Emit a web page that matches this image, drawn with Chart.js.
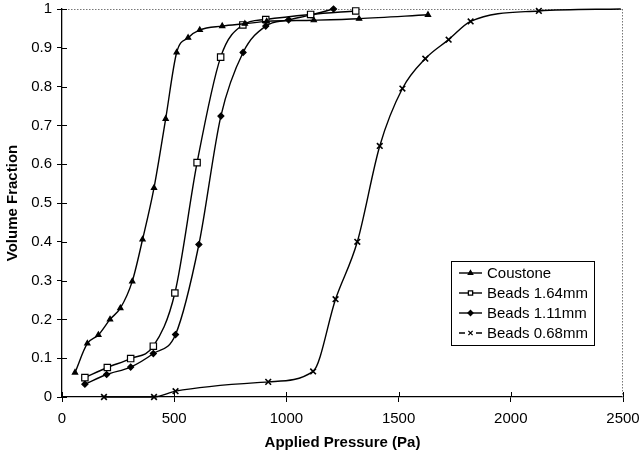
<!DOCTYPE html>
<html><head><meta charset="utf-8">
<script src="https://cdn.jsdelivr.net/npm/chart.js@4/dist/chart.umd.min.js"></script>
<style>html,body{margin:0;padding:0;background:#fff}#wrap{width:641px;height:455px;position:relative}</style>
</head><body><div id="wrap"><canvas id="c"></canvas></div>
<script>
const seriesNames = ['Coustone', 'Beads 1.64mm', 'Beads 1.11mm', 'Beads 0.68mm'];
const coustoneP = [58, 113, 162, 214, 260, 313, 359, 410, 462, 511, 562, 614, 714, 815, 912, 1122, 1324, 1631];
const coustoneV = [0.063, 0.138, 0.16, 0.2, 0.229, 0.298, 0.406, 0.539, 0.717, 0.888, 0.926, 0.946, 0.956, 0.962, 0.968, 0.971, 0.975, 0.985];
const beads164P = [102, 202, 306, 407, 503, 602, 707, 806, 908, 1108, 1309];
const beads164V = [0.05, 0.076, 0.099, 0.131, 0.268, 0.604, 0.876, 0.959, 0.973, 0.986, 0.995];
const beads111P = [102, 199, 306, 407, 506, 610, 708, 807, 908, 1010, 1110, 1210];
const beads111V = [0.033, 0.058, 0.077, 0.112, 0.161, 0.393, 0.724, 0.888, 0.956, 0.972, 0.985, 1.0];
const beads068P = [187, 410, 506, 919, 1119, 1219, 1316, 1416, 1517, 1619, 1723, 1821, 2125, 2490];
const beads068V = [0, 0, 0.015, 0.039, 0.066, 0.252, 0.4, 0.647, 0.795, 0.872, 0.921, 0.968, 0.995, 1.0];
const xTicks = [0, 500, 1000, 1500, 2000, 2500];
const yTicks = [0, 0.1, 0.2, 0.3, 0.4, 0.5, 0.6, 0.7, 0.8, 0.9, 1];
const xTitle = 'Applied Pressure (Pa)';
const yTitle = 'Volume Fraction';

const pts = (xs, ys) => xs.map((x, i) => ({x: x, y: ys[i]}));

const styles = [
  {pointStyle: 'triangle', radius: 3, bg: '#000', legendRadius: 2.5},
  {pointStyle: 'rect', radius: 4.5, bg: '#fff', legendRadius: 3},
  {pointStyle: 'rectRot', radius: 3, bg: '#000', legendRadius: 2.5},
  {pointStyle: 'crossRot', radius: 4, bg: '#000', legendRadius: 3}
];
const seriesData = [pts(coustoneP, coustoneV), pts(beads164P, beads164V), pts(beads111P, beads111V), pts(beads068P, beads068V)];

const datasets = seriesNames.map((name, i) => ({
  label: name,
  data: seriesData[i],
  borderColor: '#000',
  borderWidth: 1.4,
  backgroundColor: styles[i].bg,
  pointStyle: styles[i].pointStyle,
  pointRadius: (i === 3) ? (ctx => ctx.dataIndex === beads068P.length - 1 ? 0 : styles[3].radius) : styles[i].radius,
  pointBorderColor: '#000',
  pointBackgroundColor: styles[i].bg,
  pointBorderWidth: i === 3 ? 1.6 : 1.2,
  cubicInterpolationMode: 'monotone',
  fill: false,
  clip: false
}));

const frame = {
  id: 'frame',
  beforeDatasetsDraw(chart) {
    const {ctx, chartArea: a, scales: {x, y}} = chart;
    ctx.save();
    ctx.strokeStyle = '#777';
    ctx.lineWidth = 1;
    ctx.setLineDash([1.5, 1.5]);
    ctx.beginPath();
    ctx.moveTo(a.left, a.top + 0.5); ctx.lineTo(a.right, a.top + 0.5);
    ctx.moveTo(a.right - 0.5, a.top); ctx.lineTo(a.right - 0.5, a.bottom);
    ctx.stroke();
    ctx.setLineDash([]);
    ctx.strokeStyle = '#000';
    ctx.beginPath();
    xTicks.forEach(v => { const px = Math.round(x.getPixelForValue(v)) + 0.5; ctx.moveTo(px, a.bottom); ctx.lineTo(px, a.bottom - 5); });
    yTicks.forEach(v => { const py = Math.round(y.getPixelForValue(v)) + 0.5; ctx.moveTo(a.left, py); ctx.lineTo(a.left + 5, py); });
    ctx.stroke();
    ctx.restore();
  },
  afterDraw(chart) {
    const ctx = chart.ctx;
    const bx = 451, by = 261, bw = 143, bh = 84;
    ctx.save();
    ctx.fillStyle = '#fff';
    ctx.fillRect(bx, by, bw, bh);
    ctx.strokeStyle = '#000';
    ctx.lineWidth = 1;
    ctx.strokeRect(bx + 0.5, by + 0.5, bw, bh);
    ctx.font = '15px "Liberation Sans", Arial, sans-serif';
    ctx.textBaseline = 'middle';
    ctx.fillStyle = '#000';
    chart.data.datasets.forEach((ds, i) => {
      const ry = by + 12 + i * 20;
      ctx.strokeStyle = '#000';
      ctx.lineWidth = 1.4;
      if (i === 3) {
        ctx.beginPath();
        ctx.moveTo(459, ry); ctx.lineTo(465, ry);
        ctx.moveTo(476, ry); ctx.lineTo(482, ry);
        ctx.stroke();
      } else {
        ctx.beginPath(); ctx.moveTo(459, ry); ctx.lineTo(482, ry); ctx.stroke();
      }
      ctx.fillStyle = styles[i].bg;
      ctx.lineWidth = 1.3;
      Chart.helpers.drawPoint(ctx, {pointStyle: styles[i].pointStyle, radius: styles[i].legendRadius, rotation: 0, borderWidth: 1.3}, 470.5, ry);
      ctx.fillStyle = '#000';
      ctx.fillText(ds.label, 487, ry + 1);
    });
    ctx.restore();
  }
};

Chart.defaults.color = '#000';
Chart.defaults.font.family = '"Liberation Sans", Arial, sans-serif';

new Chart(document.getElementById('c'), {
  type: 'line',
  data: {datasets: datasets},
  plugins: [frame],
  options: {
    responsive: true,
    maintainAspectRatio: false,
    animation: false,
    events: [],
    layout: {padding: {left: 0, top: 9, right: 18, bottom: 3}},
    plugins: {legend: {display: false}, tooltip: {enabled: false}},
    scales: {
      x: {
        type: 'linear', min: 0, max: 2500,
        afterBuildTicks: s => { s.ticks = xTicks.map(v => ({value: v})); },
        afterFit: s => { s.height = 55; s.paddingLeft = 0; s.paddingRight = 0; },
        grid: {drawOnChartArea: false, drawTicks: true, tickLength: 5, color: '#000', lineWidth: 1},
        border: {color: '#000', width: 1.3},
        ticks: {font: {size: 15}, padding: 8, maxRotation: 0, callback: v => String(v)},
        title: {display: true, text: xTitle, font: {size: 15, weight: 'bold'}, padding: {top: 0, bottom: 0}}
      },
      y: {
        type: 'linear', min: 0, max: 1,
        afterBuildTicks: s => { s.ticks = yTicks.map(v => ({value: v})); },
        afterFit: s => { s.width = 62; s.paddingTop = 0; s.paddingBottom = 0; },
        grid: {drawOnChartArea: false, drawTicks: true, tickLength: 5, color: '#000', lineWidth: 1},
        border: {color: '#000', width: 1.3},
        ticks: {font: {size: 15}, padding: 5, callback: v => String(+v.toFixed(1))},
        title: {display: true, text: yTitle, font: {size: 15, weight: 'bold'}, padding: {top: 4, bottom: 0}}
      }
    }
  }
});
</script>
</body></html>
